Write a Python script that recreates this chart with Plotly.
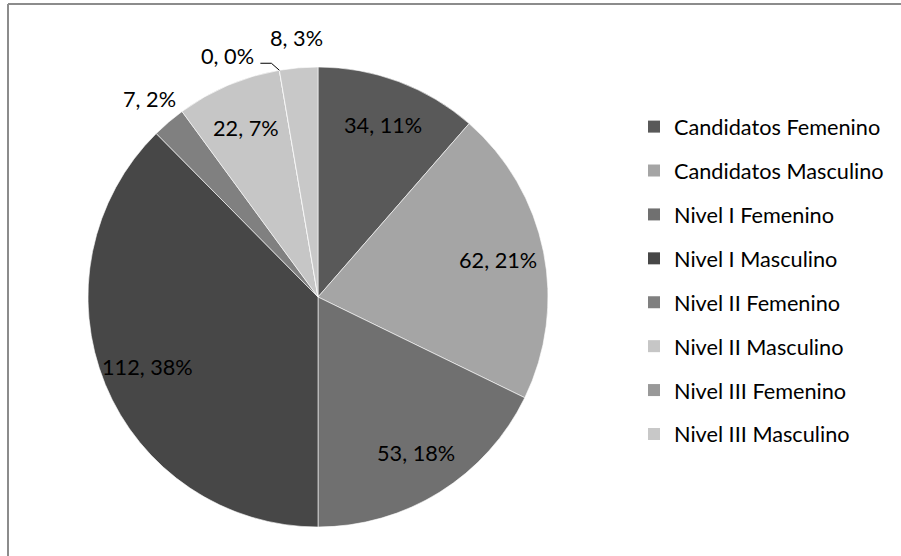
import plotly.graph_objects as go
import math

W, H = 901, 556

categories = ["Candidatos Femenino", "Candidatos Masculino", "Nivel I Femenino",
              "Nivel I Masculino", "Nivel II Femenino", "Nivel II Masculino",
              "Nivel III Femenino", "Nivel III Masculino"]
values = [34, 62, 53, 112, 7, 22, 0, 8]
colors = ["#595959", "#a5a5a5", "#707070", "#474747",
          "#808080", "#c6c6c6", "#999999", "#c8c8c8"]

FONT = "Lato"
FS = 21.7

total = sum(values)
texts = [f"{v}, {round(100 * v / total)}%" for v in values]

# pie geometry (pixels)
cx, cy, R = 318, 297, 230
dom_x = [(cx - R) / W, (cx + R) / W]
dom_y = [1 - (cy + R) / H, 1 - (cy - R) / H]


def to_paper(px, py):
    return px / W, 1 - py / H


fig = go.Figure()
fig.add_trace(go.Pie(
    labels=categories, values=values, text=texts,
    textinfo="none",
    sort=False, direction="clockwise", rotation=0,
    marker=dict(colors=colors, line=dict(color="white", width=0.6)),
    domain=dict(x=dom_x, y=dom_y),
    showlegend=False, hoverinfo="label+value+percent",
))

# legend entries
for c, col in zip(categories, colors):
    fig.add_trace(go.Scatter(
        x=[None], y=[None], mode="markers", name=c, legendgroup=c,
        marker=dict(symbol="square", size=12, color=col),
    ))

# data labels placed along each slice's mid-angle
annotations = []
shapes = []
label_font = dict(family=FONT, size=FS, color="black")
cum = 0
for v, t in zip(values, texts):
    frac = v / total
    mid = math.radians((cum + v / 2) / total * 360)
    if v == 0:
        ex = cx + R * math.sin(mid)
        ey = cy - R * math.cos(mid)
        tx, ty = to_paper(ex - 52, ey - 14)
        annotations.append(dict(x=tx, y=ty, xref="paper", yref="paper", text=t,
                                xanchor="center", yanchor="middle",
                                showarrow=False, font=label_font))
        p = [to_paper(ex - 19, ey - 7), to_paper(ex - 8, ey - 7), to_paper(ex, ey)]
        shapes.append(dict(type="path", xref="paper", yref="paper",
                           path="M {} {} L {} {} L {} {}".format(p[0][0], p[0][1], p[1][0], p[1][1], p[2][0], p[2][1]),
                           line=dict(color="black", width=1)))
    else:
        r = 0.8 * R if frac > 0.05 else R + 30
        tx, ty = to_paper(cx + r * math.sin(mid), cy - r * math.cos(mid))
        annotations.append(dict(x=tx, y=ty, xref="paper", yref="paper", text=t,
                                xanchor="center", yanchor="middle",
                                showarrow=False, font=label_font))
    cum += v

shapes += [
    dict(type="line", xref="paper", yref="paper", x0=8 / W, x1=1, y0=1 - 4 / H, y1=1 - 4 / H,
         line=dict(color="#8c8c8c", width=2)),
    dict(type="line", xref="paper", yref="paper", x0=8 / W, x1=8 / W, y0=0, y1=1 - 4 / H,
         line=dict(color="#8c8c8c", width=2)),
]

fig.update_layout(
    width=W, height=H,
    margin=dict(l=0, r=0, t=0, b=0),
    paper_bgcolor="white", plot_bgcolor="white",
    xaxis=dict(visible=False), yaxis=dict(visible=False),
    legend=dict(x=634 / W, y=1 - 106 / H, xanchor="left", yanchor="top",
                font=dict(family=FONT, size=FS, color="black"),
                tracegroupgap=12.7, itemclick=False, bgcolor="rgba(0,0,0,0)"),
    annotations=annotations,
    shapes=shapes,
)

fig.write_html("out.html", config={"displayModeBar": False},
               post_script="document.body.style.margin='0';")
